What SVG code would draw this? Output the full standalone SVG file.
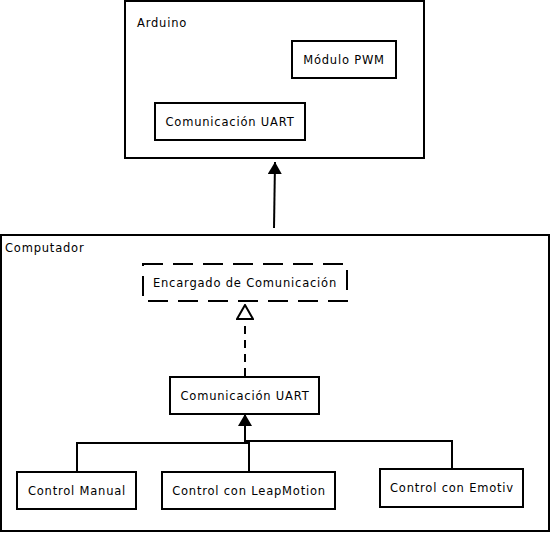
<svg xmlns="http://www.w3.org/2000/svg" width="550" height="533" viewBox="0 0 550 533">
<style>
rect{fill:#fff;stroke:#000;stroke-width:2}
.c{fill:none;stroke:#000;stroke-width:2}
text{font-family:"DejaVu Sans",sans-serif;font-size:11.5px;letter-spacing:0.8px;fill:#000}
.m{text-anchor:middle}
</style>
<defs>
<marker id="fa" viewBox="0 0 12 14" refX="12" refY="7" markerWidth="12" markerHeight="14" markerUnits="userSpaceOnUse" orient="auto"><path d="M0,0L12,7L0,14z" fill="#000"/></marker>
<marker id="ha" viewBox="0 0 16 18" refX="15" refY="9" markerWidth="16" markerHeight="18" markerUnits="userSpaceOnUse" orient="auto"><path d="M1,1L15,9L1,17z" fill="#fff" stroke="#000" stroke-width="2"/></marker>
</defs>
<rect id="bg" x="0" y="0" width="550" height="533" style="stroke:none"/>
<g id="arduino"><rect x="125" y="1" width="299" height="157"/><text x="137" y="27">Arduino</text></g>
<g id="pwm"><rect x="292" y="41" width="104" height="37"/><text class="m" x="344" y="64">Módulo PWM</text></g>
<g id="uart1"><rect x="155" y="103" width="150" height="37"/><text class="m" x="230" y="126">Comunicación UART</text></g>
<g id="computador"><rect x="1" y="235" width="548" height="296"/><text x="5" y="252">Computador</text></g>
<g id="encargado"><rect x="143" y="264" width="204" height="37" style="stroke-dasharray:20,10"/><text class="m" x="245" y="287">Encargado de Comunicación</text></g>
<g id="uart2"><rect x="170" y="377" width="149" height="37"/><text class="m" x="245" y="400">Comunicación UART</text></g>
<g id="manual"><rect x="17" y="472" width="119" height="37"/><text class="m" x="77" y="495">Control Manual</text></g>
<g id="leap"><rect x="162" y="472" width="173" height="37"/><text class="m" x="249" y="495">Control con LeapMotion</text></g>
<g id="emotiv"><rect x="380" y="469" width="143" height="38"/><text class="m" x="452" y="492">Control con Emotiv</text></g>
<g id="connectors">
<path class="c" d="M274,228L275,162" marker-end="url(#fa)"/>
<path class="c" d="M245,376L245,305" style="stroke-dasharray:8,6" marker-end="url(#ha)"/>
<path class="c" d="M77,472V443H249V472"/>
<path class="c" d="M452,469V441H245"/>
<path class="c" d="M245,443V414" marker-end="url(#fa)"/>
</g>
</svg>
